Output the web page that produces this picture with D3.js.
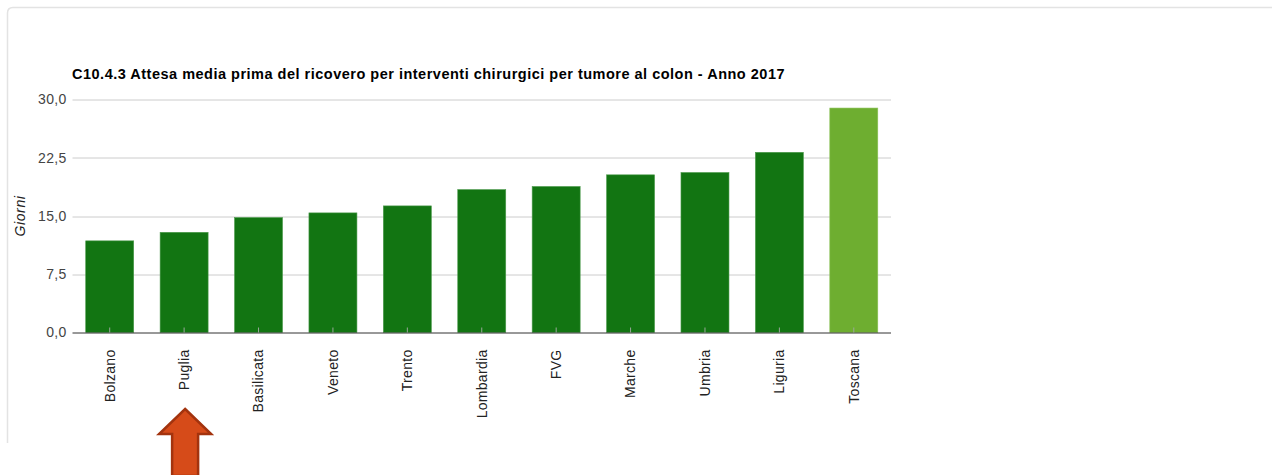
<!DOCTYPE html>
<meta charset="utf-8">
<style>
  body { margin: 0; background: #fff; }
  text { font-family: "Liberation Sans", Arial, sans-serif; }
</style>
<body>
  <div id="chart"></div>
  <script src="https://d3js.org/d3.v7.min.js"></script>
  <script>
    // values (giorni)
    var regioni = ["Bolzano", "Puglia", "Basilicata", "Veneto", "Trento", "Lombardia",
      "FVG", "Marche", "Umbria", "Liguria", "Toscana"];
    var attesa = [11.8, 12.9, 14.8, 15.4, 16.3, 18.4, 18.8, 20.3, 20.6, 23.2, 28.9];
    var yTicks = [0, 7.5, 15, 22.5, 30];
    var evidenziata = "Toscana";
    var freccia = "Puglia";

    var data = regioni.map(function(r, i) {
      return { name: r, value: attesa[i] };
    });

    var W = 1272, H = 475;
    var margin = { top: 99.5, left: 72.5, right: 381, bottom: 142.5 };
    var width = W - margin.left - margin.right,
      height = H - margin.top - margin.bottom;

    var svg = d3.select("#chart").append("svg")
      .attr("width", W)
      .attr("height", H);

    // panel border (top + left, rounded corner)
    svg.append("path")
      .attr("d", "M7.5,443 L7.5,13 Q7.5,7.5 13,7.5 L1272,7.5")
      .attr("fill", "none")
      .attr("stroke", "#e3e3e3")
      .attr("stroke-width", 1.5);

    var x = d3.scaleBand()
      .domain(regioni)
      .range([0, width])
      .paddingInner(0.355)
      .paddingOuter(0.1775);

    var y = d3.scaleLinear()
      .domain([0, 30])
      .range([height, 0]);

    var g = svg.append("g")
      .attr("transform", "translate(" + margin.left + "," + margin.top + ")");

    // title
    svg.append("text")
      .attr("x", 72)
      .attr("y", 79)
      .style("font-size", "14.5px")
      .style("font-weight", "bold")
      .style("letter-spacing", "0.5px")
      .style("fill", "#000")
      .text("C10.4.3 Attesa media prima del ricovero per interventi chirurgici per tumore al colon - Anno 2017");

    // gridlines
    g.append("g")
      .selectAll("line")
      .data(yTicks.slice(1))
      .enter().append("line")
      .attr("x1", 0)
      .attr("x2", width)
      .attr("y1", function(d) { return Math.round(y(d)) + 0.5; })
      .attr("y2", function(d) { return Math.round(y(d)) + 0.5; })
      .style("stroke", "#cccccc");

    // y axis labels
    var yAxis = g.append("g")
      .call(d3.axisLeft(y).tickValues(yTicks).tickSize(0).tickPadding(6)
        .tickFormat(function(d) { return d3.format(".1f")(d).replace(".", ","); }));
    yAxis.select(".domain").remove();
    yAxis.selectAll("text")
      .style("font-size", "14px")
      .style("letter-spacing", "0.3px")
      .style("fill", "#444")
      .style("font-family", "'Liberation Sans', Arial, sans-serif");

    // bars
    g.selectAll("rect.bar")
      .data(data)
      .enter().append("rect")
      .attr("class", "bar")
      .attr("x", function(d) { return x(d.name); })
      .attr("y", function(d) { return y(d.value); })
      .attr("width", x.bandwidth())
      .attr("height", function(d) { return height - y(d.value); })
      .style("fill", function(d) { return d.name === evidenziata ? "#6eae30" : "#127512"; })
      .style("stroke", function(d) { return d.name === evidenziata ? "#8cc25a" : "#4c9a4c"; })
      .style("stroke-width", 0.6);

    // x axis
    var xAxis = g.append("g")
      .attr("transform", "translate(0," + height + ")")
      .call(d3.axisBottom(x).tickSize(0).tickPadding(14));
    xAxis.select(".domain")
      .attr("d", "M0,0.5H" + width)
      .style("stroke", "#333");
    xAxis.selectAll("text")
      .attr("transform", "rotate(-90)")
      .attr("x", -17)
      .attr("y", 0)
      .attr("dy", "0.35em")
      .style("text-anchor", "end")
      .style("font-size", "14px")
      .style("letter-spacing", "0.3px")
      .style("fill", "#222")
      .style("font-family", "'Liberation Sans', Arial, sans-serif");
    // small ticks inside the bars
    xAxis.selectAll(".tick").append("line")
      .attr("y1", 0)
      .attr("y2", -5)
      .style("stroke", "#9aa89a");

    // y axis title
    svg.append("text")
      .attr("transform", "translate(25," + (margin.top + height / 2) + ") rotate(-90)")
      .style("text-anchor", "middle")
      .style("font-size", "14px")
      .style("letter-spacing", "0.6px")
      .style("font-style", "italic")
      .style("fill", "#222")
      .text("Giorni");

    // orange arrow under the highlighted region
    var cx = margin.left + x(freccia) + x.bandwidth() / 2 + 1;
    svg.append("path")
      .attr("d", "M" + cx + ",409 L" + (cx + 26) + ",434 L" + (cx + 13) + ",434 L" + (cx + 13) +
        ",476 L" + (cx - 13) + ",476 L" + (cx - 13) + ",434 L" + (cx - 26) + ",434 Z")
      .style("fill", "#d64b19")
      .style("stroke", "#a3330e")
      .style("stroke-width", 2.5)
      .style("stroke-linejoin", "miter");
  </script>
</body>
